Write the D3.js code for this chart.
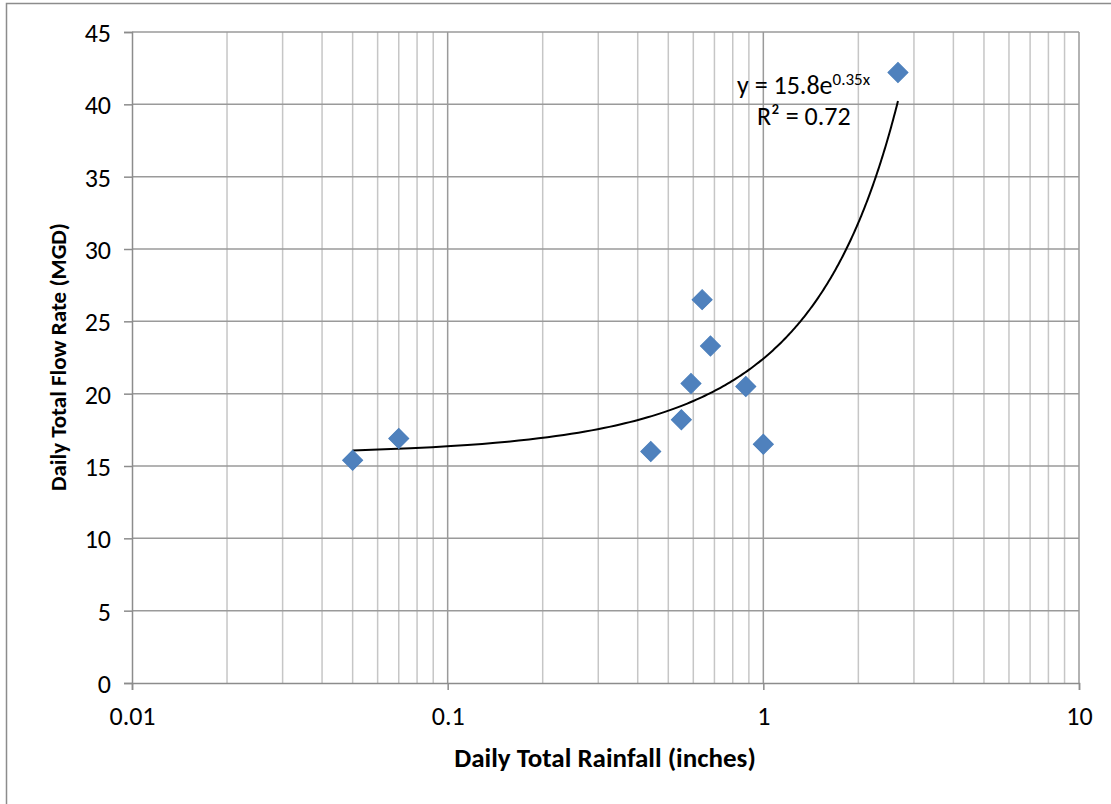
<!DOCTYPE html>
<html>
<head>
<meta charset="utf-8">
<script src="https://cdn.jsdelivr.net/npm/d3@7"></script>
<style>
  html, body { margin: 0; padding: 0; background: #fff; }
  svg { display: block; font-family: Carlito, Calibri, Lato, "Open Sans", sans-serif; }
</style>
</head>
<body>
<svg id="chart" width="1111" height="804"></svg>
<script>
// Daily rainfall (inches) vs daily total flow (MGD)
const rainfall = [0.05, 0.07, 0.44, 0.55, 0.59, 0.64, 0.68, 0.88, 1.0, 2.67];
const flowRate = [15.4, 16.9, 16.0, 18.2, 20.7, 26.5, 23.3, 20.5, 16.5, 42.2];

// Exponential fit y = a * e^(b x)
const fitA = 15.8;
const fitB = 0.35;
const fitR2 = 0.72;

const xTickValues = [0.01, 0.1, 1, 10];
const xTickLabels = ["0.01", "0.1", "1", "10"];
const yTickValues = [0, 5, 10, 15, 20, 25, 30, 35, 40, 45];

const FONT = "Carlito, Calibri, Lato, 'Open Sans', sans-serif";
const svg = d3.select("#chart");
const plot = { left: 132, right: 1079, top: 32, bottom: 683 };

const x = d3.scaleLog().domain([0.01, 10]).range([plot.left, plot.right]);
const y = d3.scaleLinear().domain([0, 45]).range([plot.bottom, plot.top]);

// outer chart frame
svg.append("path")
  .attr("d", "M6.5,810 V3.5 H1120")
  .attr("fill", "none").attr("stroke", "#8c8c8c").attr("stroke-width", 1.5);

// minor / major vertical gridlines
const minorX = [];
[0.01, 0.1, 1].forEach(d => { for (let k = 2; k <= 9; k++) minorX.push(d * k); });
svg.append("g").selectAll("line").data(minorX).join("line")
  .attr("x1", d => x(d)).attr("x2", d => x(d))
  .attr("y1", plot.top).attr("y2", plot.bottom)
  .attr("stroke", "#c6c6c6").attr("stroke-width", 1.5);

svg.append("g").selectAll("line").data([0.1, 1, 10]).join("line")
  .attr("x1", d => x(d)).attr("x2", d => x(d))
  .attr("y1", plot.top).attr("y2", plot.bottom)
  .attr("stroke", "#9a9a9a").attr("stroke-width", 1.5);

// horizontal gridlines
svg.append("g").selectAll("line").data(yTickValues.slice(1)).join("line")
  .attr("x1", plot.left).attr("x2", plot.right)
  .attr("y1", d => y(d)).attr("y2", d => y(d))
  .attr("stroke", "#9a9a9a").attr("stroke-width", 1.5);

// axes
const xAxis = svg.append("g")
  .attr("transform", `translate(0,${plot.bottom})`)
  .call(d3.axisBottom(x).tickValues(xTickValues)
    .tickFormat((d, i) => xTickLabels[i]).tickSize(7).tickPadding(17));
const yAxis = svg.append("g")
  .attr("transform", `translate(${plot.left},0)`)
  .call(d3.axisLeft(y).tickValues(yTickValues).tickSize(8).tickPadding(13));

[xAxis, yAxis].forEach(g => {
  g.attr("font-size", 26).attr("font-family", FONT);
  g.select(".domain").attr("stroke", "#8c8c8c").attr("stroke-width", 1.5);
  g.selectAll(".tick line").attr("stroke", "#8c8c8c").attr("stroke-width", 1.5);
  g.selectAll(".tick text").attr("fill", "#000");
});
yAxis.selectAll(".tick text").attr("dy", "0.36em");

// trendline from the fitted equation
const lo = d3.min(rainfall), hi = d3.max(rainfall);
const xs = d3.range(0, 201).map(i => lo + (hi - lo) * i / 200);
const line = d3.line().x(d => x(d)).y(d => y(fitA * Math.exp(fitB * d)));
svg.append("path").datum(xs)
  .attr("d", line)
  .attr("fill", "none").attr("stroke", "#000").attr("stroke-width", 2);

// data markers (diamonds)
svg.append("g").selectAll("path").data(rainfall.map((r, i) => [r, flowRate[i]])).join("path")
  .attr("transform", d => `translate(${x(d[0])},${y(d[1])}) rotate(45)`)
  .attr("d", d3.symbol().type(d3.symbolSquare).size(200)())
  .attr("fill", "#4f81bd").attr("stroke", "#4a7ebb").attr("stroke-width", 1);

// equation label
const eq = svg.append("text").attr("x", 737).attr("y", 94)
  .attr("font-size", 26).attr("fill", "#000");
eq.append("tspan").text(`y = ${fitA}e`);
eq.append("tspan").attr("font-size", 17).attr("dy", -9).text(`${fitB}x`);
svg.append("text").attr("x", 757).attr("y", 125)
  .attr("font-size", 26).attr("fill", "#000").text(`R² = ${fitR2}`);

// axis titles
svg.append("text").attr("x", 605).attr("y", 767)
  .attr("text-anchor", "middle").attr("font-size", 27).attr("font-weight", "bold")
  .text("Daily Total Rainfall (inches)");
svg.append("text")
  .attr("transform", "translate(66,357) rotate(-90)")
  .attr("text-anchor", "middle").attr("font-size", 23).attr("font-weight", "bold")
  .text("Daily Total Flow Rate (MGD)");
</script>
</body>
</html>
